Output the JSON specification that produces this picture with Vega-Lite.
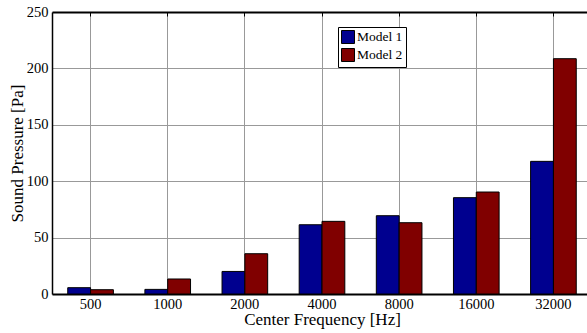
{
  "$schema": "https://vega.github.io/schema/vega-lite/v6.json",
  "width": 535,
  "height": 282,
  "autosize": {"type": "none"},
  "padding": {"left": 52, "top": 12, "right": 0, "bottom": 39},
  "config": {
    "view": {"stroke": null},
    "font": "Liberation Serif",
    "axis": {
      "labelFont": "Liberation Serif",
      "titleFont": "Liberation Serif",
      "labelColor": "black",
      "titleColor": "black",
      "titleFontWeight": "normal",
      "labelFontSize": 14.5,
      "titleFontSize": 17,
      "gridColor": "#999999",
      "gridOpacity": 1,
      "gridWidth": 1
    },
    "legend": {
      "labelFont": "Liberation Serif"
    }
  },
  "data": {
    "values": [
      {"freq": "500", "model": "Model 1", "pressure": 5.6},
      {"freq": "500", "model": "Model 2", "pressure": 3.8},
      {"freq": "1000", "model": "Model 1", "pressure": 4.1},
      {"freq": "1000", "model": "Model 2", "pressure": 13.3},
      {"freq": "2000", "model": "Model 1", "pressure": 20.0},
      {"freq": "2000", "model": "Model 2", "pressure": 35.7},
      {"freq": "4000", "model": "Model 1", "pressure": 61.4},
      {"freq": "4000", "model": "Model 2", "pressure": 64.4},
      {"freq": "8000", "model": "Model 1", "pressure": 69.4},
      {"freq": "8000", "model": "Model 2", "pressure": 63.2},
      {"freq": "16000", "model": "Model 1", "pressure": 85.4},
      {"freq": "16000", "model": "Model 2", "pressure": 90.4},
      {"freq": "32000", "model": "Model 1", "pressure": 117.6},
      {"freq": "32000", "model": "Model 2", "pressure": 208.6}
    ]
  },
  "layer": [
    {
      "mark": {"type": "bar", "stroke": "black", "strokeWidth": 1},
      "encoding": {
        "x": {
          "field": "freq",
          "type": "ordinal",
          "sort": null,
          "scale": {"range": [0, 540], "paddingInner": 0, "paddingOuter": 0},
          "axis": {
            "orient": "bottom",
            "title": "Center Frequency [Hz]",
            "labelAngle": 0,
            "labelPadding": 3,
            "titlePadding": 1,
            "domainColor": "black",
            "domainWidth": 2,
            "ticks": false,
            "grid": true,
            "bandPosition": 0.5
          }
        },
        "xOffset": {
          "field": "model",
          "scale": {"paddingInner": 0, "paddingOuter": 0.69}
        },
        "y": {
          "field": "pressure",
          "type": "quantitative",
          "scale": {"domain": [0, 250], "nice": false},
          "axis": {
            "title": "Sound Pressure [Pa]",
            "values": [0, 50, 100, 150, 200, 250],
            "labelPadding": 4,
            "titlePadding": 0,
            "domainColor": "black",
            "domainWidth": 1.5,
            "ticks": false,
            "grid": true
          }
        },
        "color": {
          "field": "model",
          "type": "nominal",
          "scale": {"range": ["#00008F", "#800000"]},
          "legend": {
            "title": null,
            "orient": "none",
            "legendX": 286,
            "legendY": 15,
            "symbolType": "square",
            "symbolSize": 169,
            "symbolStrokeColor": "black",
            "symbolStrokeWidth": 1,
            "symbolOpacity": 1,
            "labelFont": "Liberation Serif",
            "labelFontSize": 13.5,
            "labelColor": "black",
            "labelOffset": 2,
            "rowPadding": 0,
            "padding": 3,
            "strokeColor": "black",
            "fillColor": "white"
          }
        }
      }
    },
    {
      "mark": {"type": "point", "opacity": 0},
      "encoding": {
        "x": {
          "field": "freq",
          "type": "ordinal",
          "sort": null,
          "axis": {
            "orient": "top",
            "title": null,
            "labels": false,
            "domainColor": "black",
            "domainWidth": 2,
            "ticks": true,
            "tickColor": "black",
            "tickSize": -4,
            "bandPosition": 0.5,
            "grid": false
          }
        },
        "y": {"datum": 250}
      }
    }
  ],
  "resolve": {"axis": {"x": "independent"}}
}
